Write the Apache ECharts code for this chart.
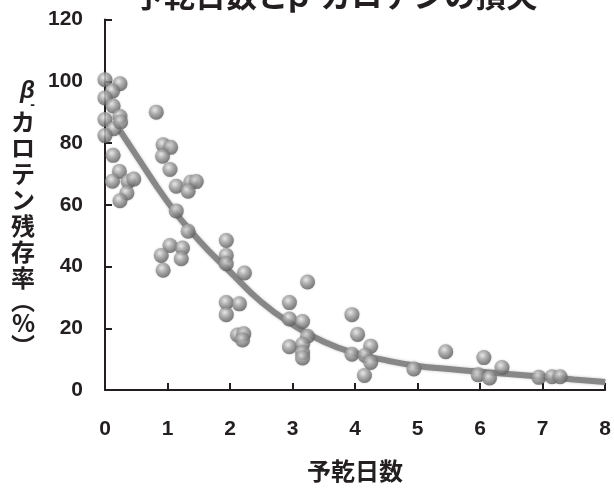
<!DOCTYPE html>
<html lang="ja">
<head>
    <meta charset="UTF-8">
    <title>予乾日数とβ-カロテンの損失</title>
    <script src="https://cdn.jsdelivr.net/npm/echarts@6/dist/echarts.min.js"></script>
    <style>
        html, body { margin: 0; padding: 0; background: #fff; }
        #main { width: 614px; height: 488px; }
    </style>
</head>
<body>
<div id="main"></div>
<script type="text/javascript">
    // 予乾日数 (x) と β-カロテン残存率 (y) の実測点
    var dayX = [0.0, 0.24, 0.12, 0.0, 0.13, 0.24, 0.0, 0.14, 0.25, 0.0,
        0.82, 0.93, 1.05, 0.92, 1.04, 0.13, 0.23, 0.12, 0.37, 0.46,
        0.35, 0.24, 1.14, 1.37, 1.46, 1.33, 1.14, 1.33, 1.04, 0.9,
        1.24, 1.22, 0.93, 1.94, 1.94, 1.94, 2.23, 1.94, 2.15, 1.94,
        2.12, 2.22, 2.2, 3.24, 2.95, 2.95, 3.16, 3.24, 2.95, 3.16,
        3.16, 3.16, 3.95, 4.04, 4.25, 3.95, 4.16, 4.25, 4.15, 4.94,
        5.45, 6.06, 5.97, 6.15, 6.35, 6.94, 7.15, 7.28];
    var retainY = [100.5, 99.2, 96.8, 94.6, 92, 88.6, 87.6, 84.6, 86.8, 82.4,
        90, 79.4, 78.6, 75.7, 71.4, 76, 70.8, 67.6, 67.5, 68.3,
        63.8, 61.3, 66, 67.3, 67.5, 64.4, 58, 51.4, 46.8, 43.6,
        46, 42.5, 38.8, 48.4, 43.6, 40.9, 37.9, 28.3, 27.9, 24.4,
        17.8, 18.2, 16.2, 35, 28.3, 23, 22.2, 17.4, 14, 14.8,
        12.1, 10.4, 24.4, 18, 14.2, 11.6, 11.2, 8.9, 4.7, 6.8,
        12.4, 10.5, 4.9, 3.9, 7.3, 4.1, 4.3, 4.3];

    // 近似曲線
    var curveX = [0.24, 0.5, 1.0, 1.5, 2.0, 2.5, 3.0, 3.5, 4.0, 4.5, 5.0, 5.5, 6.0, 6.5, 7.0, 7.5, 8.0];
    var curveY = [84, 76, 61, 48.5, 38.3, 28.5, 21.2, 15.6, 11.9, 9.6, 7.8, 6.8, 5.9, 5.1, 4.3, 3.4, 2.6];

    var xTicks = [0, 1, 2, 3, 4, 5, 6, 7, 8];
    var yTicks = [0, 20, 40, 60, 80, 100, 120];

    var pts = dayX.map(function (x, i) { return [x, retainY[i]]; });
    var curve = curveX.map(function (x, i) { return [x, curveY[i]]; });

    var ink = '#231f20';
    var jp = '"Noto Sans CJK JP", sans-serif';
    var num = '"Liberation Sans", Arial, sans-serif';

    var ball = {
        type: 'radial', x: 0.4, y: 0.35, r: 0.65,
        colorStops: [
            {offset: 0, color: '#eeeeee'},
            {offset: 0.45, color: '#a6a6a6'},
            {offset: 1, color: '#626262'}
        ]
    };

    var chart = echarts.init(document.getElementById('main'));
    var option = {
        animation: false,
        backgroundColor: '#ffffff',
        title: {
            text: '予乾日数とβ-カロテンの損失',
            left: 133,
            top: -20,
            padding: 0,
            textStyle: {fontFamily: jp, fontSize: 31, fontWeight: 'bold', color: ink}
        },
        grid: {left: 105, right: 7, top: 19.5, bottom: 93.5},
        xAxis: {
            type: 'value',
            min: 0, max: 8, interval: 1,
            name: '予乾日数',
            nameLocation: 'middle',
            nameGap: 69,
            nameTextStyle: {fontFamily: jp, fontSize: 24, fontWeight: 'bold', color: ink},
            axisLine: {lineStyle: {color: ink, width: 2}},
            axisTick: {inside: true, length: 7, lineStyle: {color: ink, width: 2}},
            axisLabel: {
                margin: 29, fontFamily: num, fontSize: 21, fontWeight: 'bold', color: ink,
                formatter: function (v) { return xTicks.indexOf(v) >= 0 ? String(v) : ''; }
            },
            splitLine: {show: false}
        },
        yAxis: {
            type: 'value',
            min: 0, max: 120, interval: 20,
            name: '{b|β}\n{d|-}\n{c|カ}\n{c|ロ}\n{c|テ}\n{c|ン}\n{c|残}\n{c|存}\n{c|率}\n{p|︵}\n{c|%}\n{p|︶}',
            nameLocation: 'middle',
            nameGap: 70,
            nameRotate: 0,
            nameTextStyle: {
                padding: [28, 0, 0, 0],
                rich: {
                    b: {fontFamily: num, fontStyle: 'italic', fontWeight: 'bold', fontSize: 24, lineHeight: 19, color: ink},
                    d: {fontFamily: num, fontSize: 14, fontWeight: 'bold', lineHeight: 8, color: ink},
                    c: {fontFamily: jp, fontSize: 24, fontWeight: 'bold', lineHeight: 26, color: ink},
                    p: {fontFamily: jp, fontSize: 24, fontWeight: 'bold', lineHeight: 19, color: ink}
                }
            },
            axisLine: {show: true, lineStyle: {color: ink, width: 2}},
            axisTick: {show: true, inside: true, length: 7, lineStyle: {color: ink, width: 2}},
            axisLabel: {
                margin: 22, fontFamily: num, fontSize: 21, fontWeight: 'bold', color: ink,
                formatter: function (v) { return yTicks.indexOf(v) >= 0 ? String(v) : ''; }
            },
            splitLine: {show: false}
        },
        series: [
            {
                name: '近似曲線',
                type: 'line',
                data: curve,
                smooth: true,
                symbol: 'none',
                z: 2,
                lineStyle: {
                    color: '#878787', width: 6,
                    shadowColor: 'rgba(0,0,0,0.25)', shadowBlur: 3
                }
            },
            {
                name: '残存率',
                type: 'scatter',
                data: pts,
                symbolSize: 15,
                clip: false,
                z: 3,
                itemStyle: {
                    color: ball,
                    shadowColor: 'rgba(0,0,0,0.25)', shadowBlur: 2
                }
            }
        ]
    };
    chart.setOption(option);
</script>
</body>
</html>
